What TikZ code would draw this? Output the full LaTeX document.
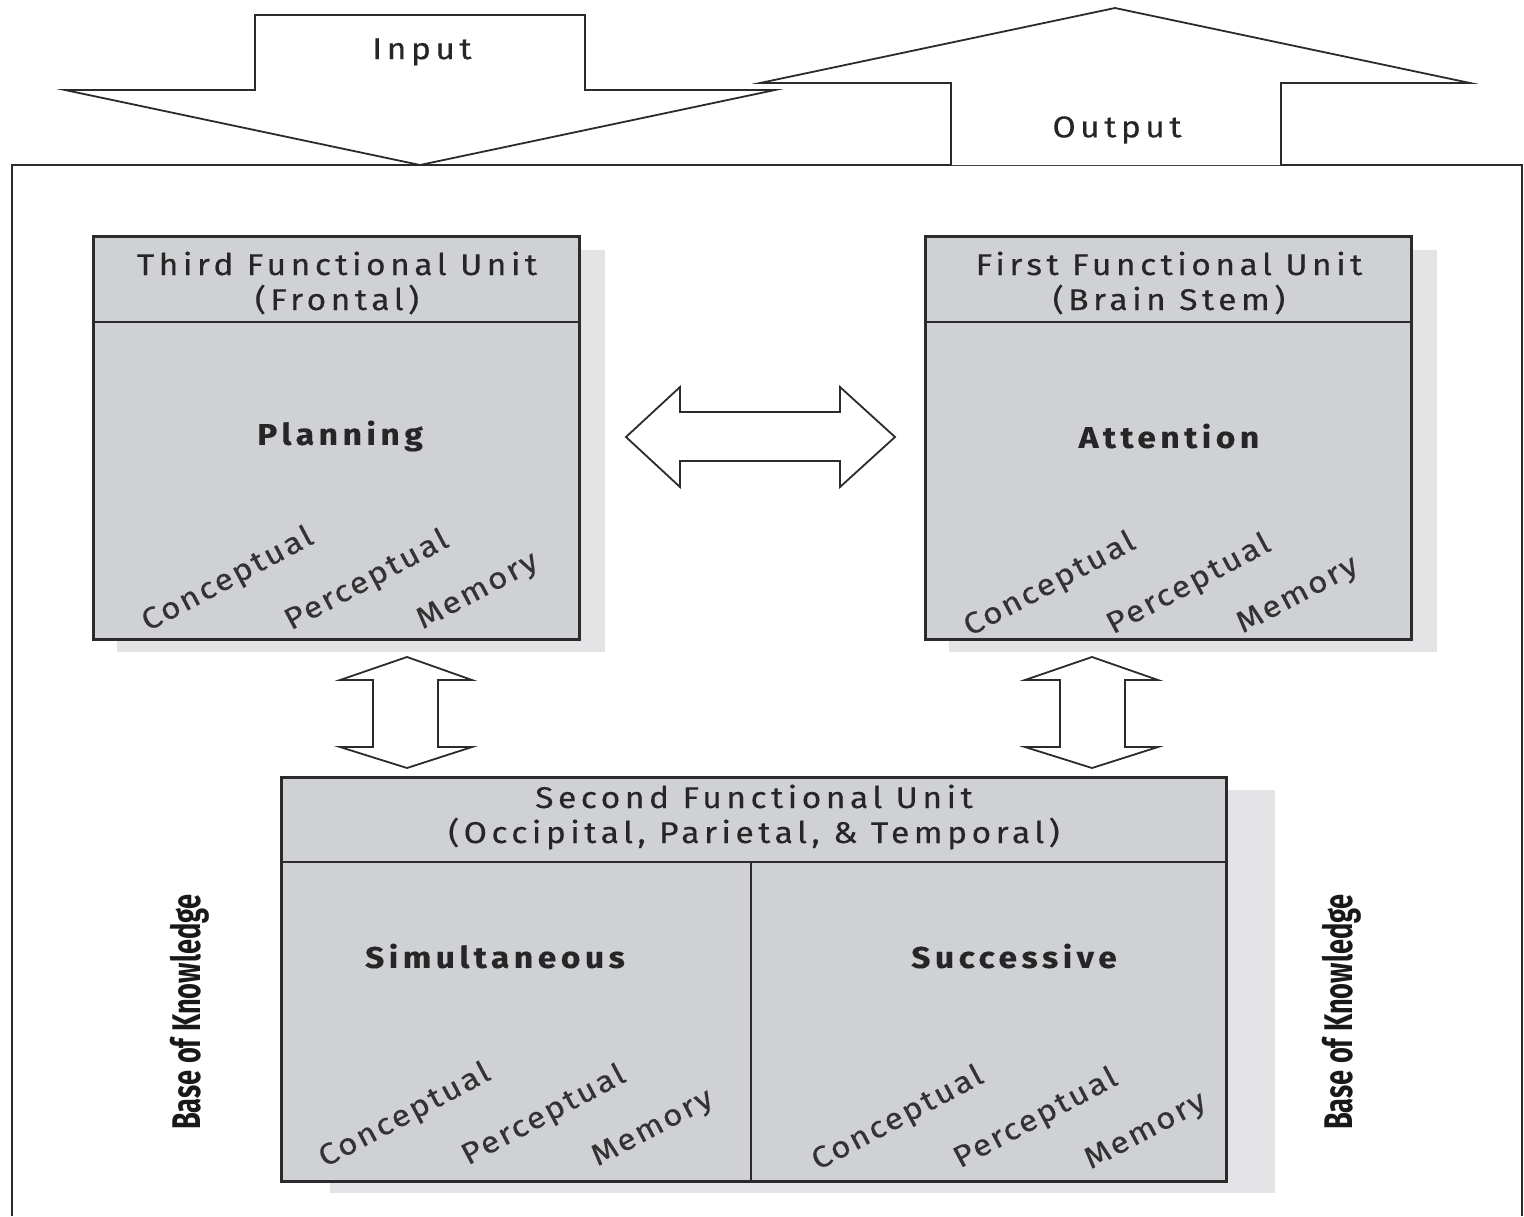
\documentclass[tikz,border=0pt]{standalone}
\usepackage{fontspec}
\usepackage{graphicx}
\setmainfont{Fira Sans}
\newfontfamily\unitfont[LetterSpace=15,FakeStretch=1.12,FakeBold=0.3]{Fira Sans}
\newfontfamily\facetfont[LetterSpace=7,FakeStretch=1.12,FakeBold=0.2]{Fira Sans}
\definecolor{linecol}{HTML}{2B2B2B}
\definecolor{boxfill}{HTML}{CFD1D4}
\definecolor{shadecol}{HTML}{E4E4E6}
\begin{document}
\begin{tikzpicture}[x=1pt,y=-1pt,
  frame/.style={draw=linecol,line width=2.6pt,fill=boxfill,inner sep=0pt,anchor=north west},
  shadebox/.style={fill=shadecol,draw=none,inner sep=0pt,anchor=north west},
  blockarrow/.style={draw=linecol,line width=1.8pt,fill=white,line join=miter},
  divider/.style={draw=linecol,line width=2.4pt},
  head/.style={font=\unitfont\fontsize{30}{35}\selectfont,align=center,text=black!85},
  title/.style={font=\unitfont\bfseries\fontsize{30}{35}\selectfont,text=black!85},
  facet/.style={font=\facetfont\fontsize{30}{32}\selectfont,rotate=28,text=black!80,inner sep=0pt},
  iolabel/.style={font=\unitfont\fontsize{30}{32}\selectfont,text=black!85},
  sidelabel/.style={rotate=90,text=black!90}
]
\useasboundingbox (0,0) rectangle (1524,1216);
\fill[white] (0,0) rectangle (1524,1216);

% outer frame, open at the bottom edge
\draw[linecol,line width=1.8pt] (12,1216) -- (12,165) -- (1522,165) -- (1522,1216);

% input and output block arrows
\draw[blockarrow] (255,15) -- (585,15) -- (585,90) -- (775,90) -- (420,165)
  -- (65,90) -- (255,90) -- cycle;
\draw[blockarrow] (951,165) -- (951,83) -- (760,83) -- (1115,8) -- (1470,83)
  -- (1281,83) -- (1281,165);
\node[iolabel] (in) at (422,52) {Input};
\node[iolabel] (out) at (1117,130) {Output};

% drop shadows
\node[shadebox,minimum width=488pt,minimum height=402pt] (thirdsh) at (117,250) {};
\node[shadebox,minimum width=488pt,minimum height=402pt] (firstsh) at (949,250) {};
\node[shadebox,minimum width=945pt,minimum height=403pt] (secondsh) at (330,790) {};

% third functional unit
\node[frame,minimum width=486pt,minimum height=403pt] (third) at (92,235) {};
\draw[divider] (92,322) -- (578,322);
\node[head] (thirdhd) at (337,283) {Third Functional Unit\\(Frontal)};
\node[title] (plan) at (340,436) {Planning};
\node[facet] (t1) at (228,580) {Conceptual};
\node[facet] (t2) at (367,581) {Perceptual};
\node[facet] (t3) at (478,592) {Memory};

% first functional unit
\node[frame,minimum width=486pt,minimum height=403pt] (first) at (924,235) {};
\draw[divider] (924,322) -- (1410,322);
\node[head] (firsthd) at (1169,283) {First Functional Unit\\(Brain Stem)};
\node[title] (att) at (1169,436) {Attention};
\node[facet] (f1) at (1050,585) {Conceptual};
\node[facet] (f2) at (1189,585) {Perceptual};
\node[facet] (f3) at (1298,596) {Memory};

% second functional unit
\node[frame,minimum width=945pt,minimum height=404pt] (second) at (280,776) {};
\draw[divider] (280,862) -- (1225,862);
\draw[divider] (751,862) -- (751,1180);
\node[head] (secondhd) at (754,817) {Second Functional Unit\\(Occipital, Parietal, \& Temporal)};
\node[title] (sim) at (495,956) {Simultaneous};
\node[title] (suc) at (1014,956) {Successive};
\node[facet] (s1) at (405,1116) {Conceptual};
\node[facet] (s2) at (544,1116) {Perceptual};
\node[facet] (s3) at (653,1129) {Memory};
\node[facet] (u1) at (898,1119) {Conceptual};
\node[facet] (u2) at (1036,1119) {Perceptual};
\node[facet] (u3) at (1146,1132) {Memory};

% base of knowledge labels
\node[sidelabel] (bkl) at (190,1012) {\scalebox{0.68}[1]{\fontsize{40}{44}\selectfont\bfseries Base of Knowledge}};
\node[sidelabel] (bkr) at (1342,1012) {\scalebox{0.68}[1]{\fontsize{40}{44}\selectfont\bfseries Base of Knowledge}};

% double arrows between the units
\draw[blockarrow] (626,437) -- (680,387) -- (680,412) -- (840,412) -- (840,387)
  -- (895,437) -- (840,487) -- (840,461) -- (680,461) -- (680,487) -- cycle;
\draw[blockarrow] (407,657) -- (472,680) -- (438,680) -- (438,747) -- (472,747)
  -- (407,768) -- (340,747) -- (373,747) -- (373,680) -- (340,680) -- cycle;
\draw[blockarrow] (1092,657) -- (1158,680) -- (1125,680) -- (1125,747) -- (1158,747)
  -- (1092,768) -- (1025,747) -- (1060,747) -- (1060,680) -- (1025,680) -- cycle;
\end{tikzpicture}
\end{document}
